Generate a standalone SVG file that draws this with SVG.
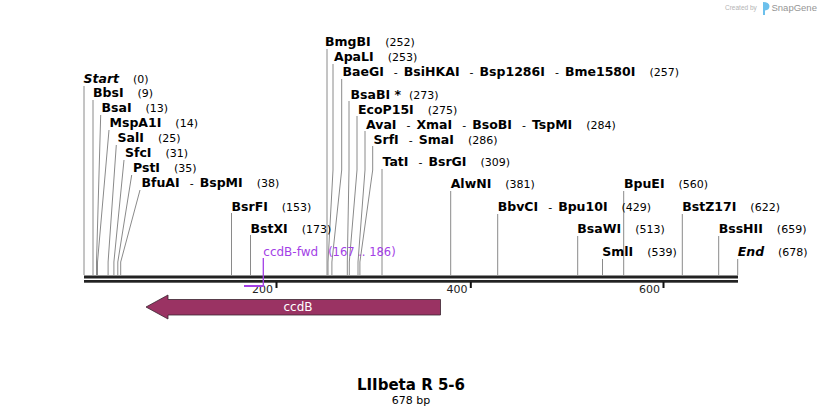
<svg xmlns="http://www.w3.org/2000/svg" width="822" height="415" viewBox="0 0 822 415">
<style>
text{white-space:pre;fill:#000;}
.e{font-family:"DejaVu Sans",sans-serif;font-weight:bold;font-size:12.5px;}
.ei{font-family:"DejaVu Sans",sans-serif;font-weight:bold;font-style:italic;font-size:12.5px;}
.n{font-family:"DejaVu Sans",sans-serif;font-size:11px;}
.ln{stroke:#8a8a8a;stroke-width:1;fill:none;}
.ax{font-family:"DejaVu Sans",sans-serif;font-size:11px;fill:#222;}
.pr{font-family:"DejaVu Sans",sans-serif;font-size:12px;fill:#a33fe6;}
.prn{font-family:"DejaVu Sans",sans-serif;font-size:11.5px;fill:#a33fe6;}
</style>
<rect width="822" height="415" fill="#fff"/>
<g id="watermark">
<text x="725" y="10" style="font-family:'Liberation Sans',sans-serif;font-size:6.5px;fill:#b4b4b4;">Created by</text>
<path d="M763,2 Q769,2 769.5,6 Q769.5,10 765,10.5 L765,15 L763,15 Z" fill="#6cc0ec"/>
<text x="771.5" y="11" style="font-family:'Liberation Sans',sans-serif;font-size:9.5px;fill:#959595;">SnapGene</text>
</g>
<g id="connectors">
<path class="ln" d="M84,86V275"/>
<path class="ln" d="M93,100V275"/>
<path class="ln" d="M100.7,115L96.5,262V275"/>
<path class="ln" d="M109,130L97.5,262V275"/>
<path class="ln" d="M116.3,145L108.1,262V275"/>
<path class="ln" d="M124,160L113.9,262V275"/>
<path class="ln" d="M131.7,175L117.8,262V275"/>
<path class="ln" d="M140,190L120.7,262V275"/>
<path class="ln" d="M231.5,213V275"/>
<path class="ln" d="M250.5,235V275"/>
<path class="ln" d="M327,49V275"/>
<path class="ln" d="M333,64V170L328,262V275"/>
<path class="ln" d="M341.7,79V170L331.9,262V275"/>
<path class="ln" d="M349,101V170L347.3,262V275"/>
<path class="ln" d="M357,116V170L349.3,262V275"/>
<path class="ln" d="M365,131V170L358,262V275"/>
<path class="ln" d="M372.7,146V170L359.9,262V275"/>
<path class="ln" d="M382,169V275"/>
<path class="ln" d="M450.7,191V275"/>
<path class="ln" d="M497.7,214V275"/>
<path class="ln" d="M577.7,236V275"/>
<path class="ln" d="M602.5,259V275"/>
<path class="ln" d="M623.7,191V275"/>
<path class="ln" d="M682.3,214V275"/>
<path class="ln" d="M718.7,236V275"/>
<path class="ln" d="M737.7,259V275"/>
</g>
<g id="backbone">
<rect x="84" y="275.5" width="654" height="3" fill="#222"/>
<rect x="84" y="280" width="654" height="2.7" fill="#222"/>
<rect x="275.5" y="282" width="2" height="6" fill="#111"/>
<rect x="469.8" y="282" width="2" height="6" fill="#111"/>
<rect x="662.5" y="282" width="2" height="6" fill="#111"/>
<text class="ax" x="273" y="293" text-anchor="end">200</text>
<text class="ax" x="467.5" y="293" text-anchor="end">400</text>
<text class="ax" x="660" y="293" text-anchor="end">600</text>
</g>
<g id="primer-ccdB-fwd">
<path d="M263.3,258V286" stroke="#a33fe6" stroke-width="1.3" fill="none"/>
<rect x="244" y="285" width="19.5" height="2" fill="#a33fe6"/>
<text class="pr" x="263.3" y="256">ccdB-fwd<tspan class="prn" dx="10">(167 .. 186)</tspan></text>
</g>
<g id="feature-ccdB">
<path d="M146,307L168,295V299.5H440.5V315H168V319Z" fill="#9a3363" stroke="#3a2430" stroke-width="0.8"/>
<text x="298" y="311" text-anchor="middle" style="font-family:'DejaVu Sans',sans-serif;font-size:12px;fill:#fff;">ccdB</text>
</g>
<g id="site-Start"><text x="83.5" y="83"><tspan class="ei">Start</tspan><tspan class="n" dx="14">(0)</tspan></text></g>
<g id="site-BbsI"><text x="93" y="97"><tspan class="e">BbsI</tspan><tspan class="n" dx="14">(9)</tspan></text></g>
<g id="site-BsaI"><text x="101.5" y="112"><tspan class="e">BsaI</tspan><tspan class="n" dx="14">(13)</tspan></text></g>
<g id="site-MspA1I"><text x="109.5" y="127"><tspan class="e">MspA1I</tspan><tspan class="n" dx="14">(14)</tspan></text></g>
<g id="site-SalI"><text x="117.5" y="142"><tspan class="e">SalI</tspan><tspan class="n" dx="14">(25)</tspan></text></g>
<g id="site-SfcI"><text x="125" y="157"><tspan class="e">SfcI</tspan><tspan class="n" dx="14">(31)</tspan></text></g>
<g id="site-PstI"><text x="133" y="172"><tspan class="e">PstI</tspan><tspan class="n" dx="14">(35)</tspan></text></g>
<g id="site-BfuAI"><text x="141.5" y="187"><tspan class="e">BfuAI</tspan><tspan class="n" dx="10">-</tspan><tspan class="e" dx="6">BspMI</tspan><tspan class="n" dx="14">(38)</tspan></text></g>
<g id="site-BsrFI"><text x="231.5" y="210.5"><tspan class="e">BsrFI</tspan><tspan class="n" dx="14">(153)</tspan></text></g>
<g id="site-BstXI"><text x="250.5" y="232.5"><tspan class="e">BstXI</tspan><tspan class="n" dx="14">(173)</tspan></text></g>
<g id="site-BmgBI"><text x="325" y="46"><tspan class="e">BmgBI</tspan><tspan class="n" dx="14.5">(252)</tspan></text></g>
<g id="site-ApaLI"><text x="334" y="61"><tspan class="e">ApaLI</tspan><tspan class="n" dx="14">(253)</tspan></text></g>
<g id="site-BaeGI"><text x="342.5" y="76"><tspan class="e">BaeGI</tspan><tspan class="n" dx="10">-</tspan><tspan class="e" dx="6">BsiHKAI</tspan><tspan class="n" dx="10">-</tspan><tspan class="e" dx="6">Bsp1286I</tspan><tspan class="n" dx="10">-</tspan><tspan class="e" dx="6">Bme1580I</tspan><tspan class="n" dx="14">(257)</tspan></text></g>
<g id="site-BsaBI"><text x="350.5" y="98.5"><tspan class="e">BsaBI *</tspan><tspan class="n" dx="8">(273)</tspan></text></g>
<g id="site-EcoP15I"><text x="358" y="113.5"><tspan class="e">EcoP15I</tspan><tspan class="n" dx="14">(275)</tspan></text></g>
<g id="site-AvaI"><text x="366" y="128.5"><tspan class="e">AvaI</tspan><tspan class="n" dx="10">-</tspan><tspan class="e" dx="6">XmaI</tspan><tspan class="n" dx="10">-</tspan><tspan class="e" dx="6">BsoBI</tspan><tspan class="n" dx="10">-</tspan><tspan class="e" dx="6">TspMI</tspan><tspan class="n" dx="14">(284)</tspan></text></g>
<g id="site-SrfI"><text x="373.5" y="143.5"><tspan class="e">SrfI</tspan><tspan class="n" dx="10">-</tspan><tspan class="e" dx="6">SmaI</tspan><tspan class="n" dx="14">(286)</tspan></text></g>
<g id="site-TatI"><text x="382.5" y="166"><tspan class="e">TatI</tspan><tspan class="n" dx="10">-</tspan><tspan class="e" dx="6">BsrGI</tspan><tspan class="n" dx="14">(309)</tspan></text></g>
<g id="site-AlwNI"><text x="450.7" y="188"><tspan class="e">AlwNI</tspan><tspan class="n" dx="14">(381)</tspan></text></g>
<g id="site-BbvCI"><text x="497.7" y="211"><tspan class="e">BbvCI</tspan><tspan class="n" dx="10">-</tspan><tspan class="e" dx="6">Bpu10I</tspan><tspan class="n" dx="14">(429)</tspan></text></g>
<g id="site-BsaWI"><text x="577.3" y="233"><tspan class="e">BsaWI</tspan><tspan class="n" dx="14">(513)</tspan></text></g>
<g id="site-SmlI"><text x="602.3" y="256"><tspan class="e">SmlI</tspan><tspan class="n" dx="14">(539)</tspan></text></g>
<g id="site-BpuEI"><text x="624" y="188"><tspan class="e">BpuEI</tspan><tspan class="n" dx="14">(560)</tspan></text></g>
<g id="site-BstZ17I"><text x="682.3" y="211"><tspan class="e">BstZ17I</tspan><tspan class="n" dx="14">(622)</tspan></text></g>
<g id="site-BssHII"><text x="718.7" y="233"><tspan class="e">BssHII</tspan><tspan class="n" dx="14">(659)</tspan></text></g>
<g id="site-End"><text x="737.7" y="256"><tspan class="ei">End</tspan><tspan class="n" dx="14">(678)</tspan></text></g>
<g id="title">
<text x="411" y="390" text-anchor="middle" style="font-family:'DejaVu Sans',sans-serif;font-weight:bold;font-size:15px;">LIIbeta R 5-6</text>
<text x="411" y="403.5" text-anchor="middle" style="font-family:'DejaVu Sans',sans-serif;font-size:11px;">678 bp</text>
</g>
</svg>
